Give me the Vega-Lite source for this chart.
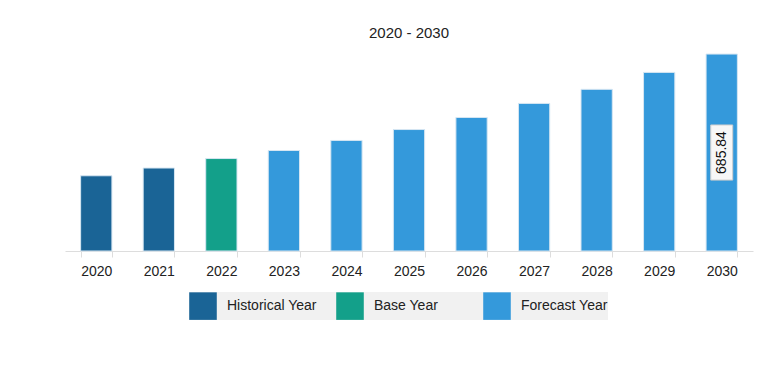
{
  "$schema": "https://vega.github.io/schema/vega-lite/v6.json",
  "autosize": {"type": "none"},
  "padding": {"left": 65, "top": 50, "right": 22, "bottom": 117},
  "width": 688,
  "height": 201,
  "background": "white",
  "config": {"view": {"stroke": null}, "font": "Liberation Sans"},
  "title": {"text": "2020 - 2030", "fontSize": 15, "fontWeight": "normal", "color": "#222", "font": "Liberation Sans", "offset": 9, "anchor": "middle"},
  "data": {"values": [
    {"year": "2020", "value": 262, "type": "Historical Year"},
    {"year": "2021", "value": 289, "type": "Historical Year"},
    {"year": "2022", "value": 322, "type": "Base Year"},
    {"year": "2023", "value": 350, "type": "Forecast Year"},
    {"year": "2024", "value": 385, "type": "Forecast Year"},
    {"year": "2025", "value": 423, "type": "Forecast Year"},
    {"year": "2026", "value": 465, "type": "Forecast Year"},
    {"year": "2027", "value": 514, "type": "Forecast Year"},
    {"year": "2028", "value": 563, "type": "Forecast Year"},
    {"year": "2029", "value": 622, "type": "Forecast Year"},
    {"year": "2030", "value": 685.84, "type": "Forecast Year", "label": "685.84"}
  ]},
  "encoding": {
    "x": {"field": "year", "type": "ordinal", "scale": {"paddingInner": 0.5, "paddingOuter": 0.25},
      "axis": {"title": null, "labelAngle": 0, "labelFontSize": 14, "labelColor": "#222", "labelPadding": 7, "domainColor": "#ddd", "tickColor": "#ddd", "tickSize": 6, "tickBand": "extent", "labelFont": "Liberation Sans"}}
  },
  "layer": [
    {
      "mark": {"type": "bar", "stroke": "#d6e6f2", "strokeWidth": 1},
      "encoding": {
        "y": {"field": "value", "type": "quantitative", "scale": {"domain": [0, 700], "nice": false}, "axis": null},
        "color": {"field": "type", "type": "nominal",
          "scale": {"domain": ["Historical Year", "Base Year", "Forecast Year"], "range": ["#1a6496", "#13a08a", "#3499db"]},
          "legend": {"title": null, "orient": "none", "legendX": 124, "legendY": 242, "direction": "horizontal", "columns": 3, "gridAlign": "all", "symbolType": "square", "symbolSize": 760, "symbolStrokeWidth": 0, "labelFontSize": 14, "labelColor": "#222", "labelOffset": 10, "columnPadding": 19, "fillColor": "#f1f1f1", "padding": 0, "labelFont": "Liberation Sans"}}
      }
    },
    {
      "transform": [{"filter": "datum.label != null"}, {"calculate": "datum.value * 0.36", "as": "lo"}, {"calculate": "datum.value * 0.64", "as": "hi"}, {"calculate": "datum.value / 2", "as": "mid"}],
      "layer": [
        {
          "mark": {"type": "bar", "width": 22, "fill": "#f7f7f7", "stroke": "#cccccc", "strokeWidth": 1},
          "encoding": {"y": {"field": "lo", "type": "quantitative"}, "y2": {"field": "hi"}}
        },
        {
          "mark": {"type": "text", "angle": 270, "fontSize": 14, "color": "#111", "font": "Liberation Sans", "baseline": "middle", "align": "center"},
          "encoding": {"y": {"field": "mid", "type": "quantitative"}, "text": {"field": "label"}}
        }
      ]
    }
  ]
}
